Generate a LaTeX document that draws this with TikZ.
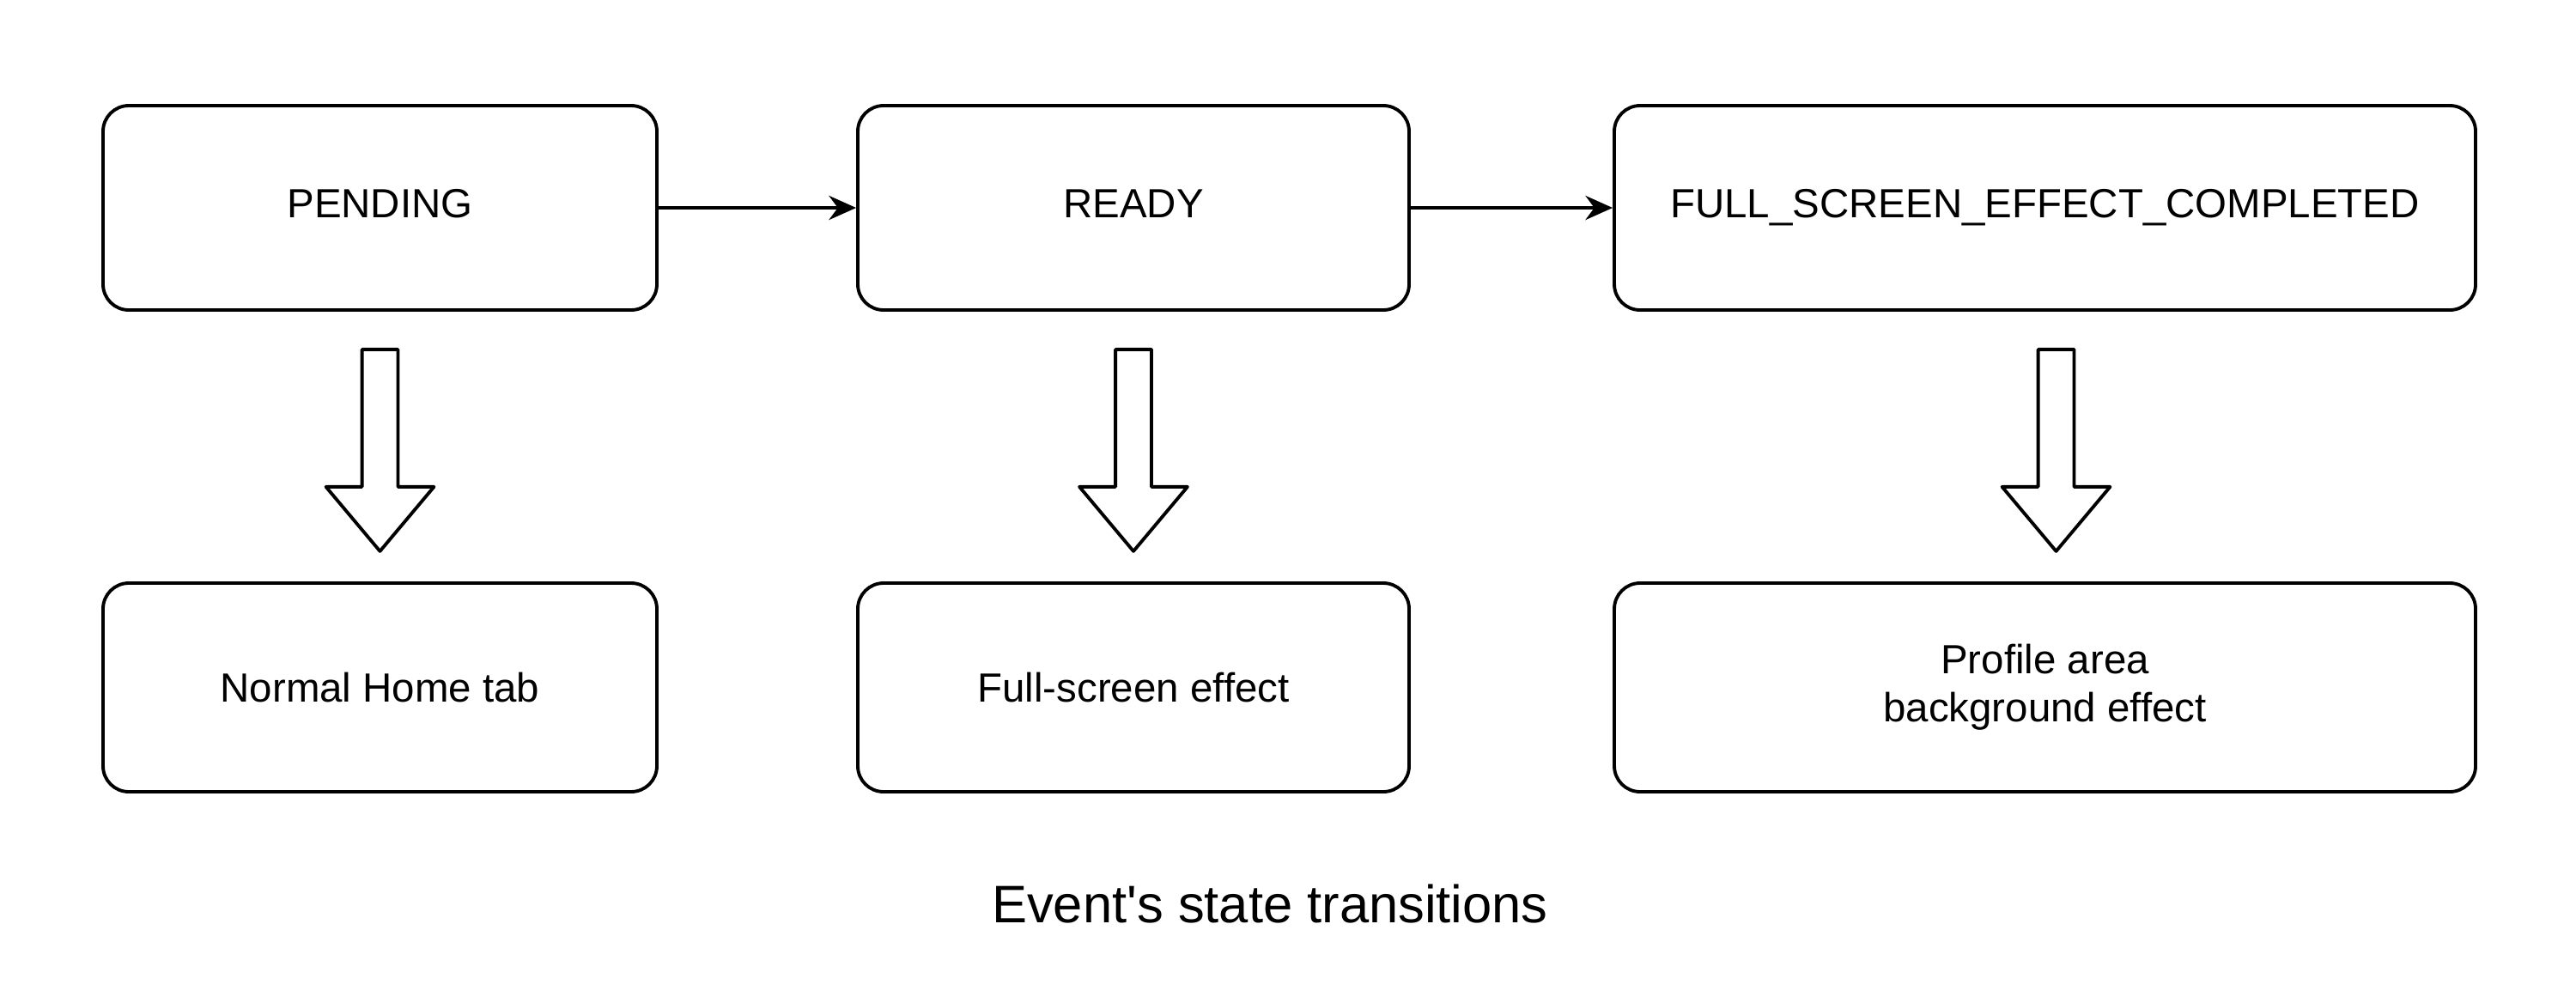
\documentclass[tikz,border=0pt]{standalone}
\usepackage{fontspec}
\setmainfont{Liberation Sans}
\usetikzlibrary{arrows.meta, positioning, shapes.arrows}
\def\rowsep{5.585cm}

\begin{document}
\begin{tikzpicture}[->, >={Stealth[length=9pt, width=8pt]}, line width=1.1pt, draw=black]
    \tikzstyle{box}=[draw=black, rounded corners=0.3cm, minimum height=2.38cm, align=center, font=\fontsize{13.5}{16}\selectfont]
    \tikzstyle{state}=[box, text height=1.6ex, text depth=0.4ex]
    \tikzstyle{effect}=[box, minimum height=2.43cm]
    \tikzstyle{bigarrow}=[single arrow, draw=black, rotate=-90, inner xsep=0pt, inner ysep=0.19cm, minimum height=2.35cm, single arrow head extend=0.42cm, single arrow tip angle=80, line join=round]
    \tikzstyle{annot}=[font=\fontsize{17.5}{21}\selectfont]

    \useasboundingbox (0,0) rectangle (30,-11.6);

    % Draw the states
    \node[state, minimum width=6.45cm] (pending) at (4.425,-2.42) {PENDING};
    \node[state, minimum width=6.42cm] (ready) at (13.2,-2.42) {READY};
    \node[state, minimum width=10.03cm] (full) at (23.815,-2.42) {FULL\_SCREEN\_EFFECT\_COMPLETED};

    % Draw what each state shows
    \node[effect, minimum width=6.45cm, below of=pending, node distance=\rowsep] (home) {Normal Home tab};
    \node[effect, minimum width=6.42cm, below of=ready, node distance=\rowsep] (fullfx) {Full-screen effect};
    \node[effect, minimum width=10.03cm, below of=full, node distance=\rowsep] (profile) {Profile area\\background effect};

    % State transitions
    \draw (pending) -- (ready);
    \draw (ready) -- (full);

    % Big arrows down to the effects
    \foreach \name/\shift in {pending/0, ready/0, full/0.13}
        \node[bigarrow, anchor=tail] (arrow-\name) at ([xshift=\shift cm, yshift=-0.42cm]\name.south) {};

    \node[annot] (caption) at (14.79,-10.52) {Event\textquotesingle s state transitions};
\end{tikzpicture}
\end{document}
